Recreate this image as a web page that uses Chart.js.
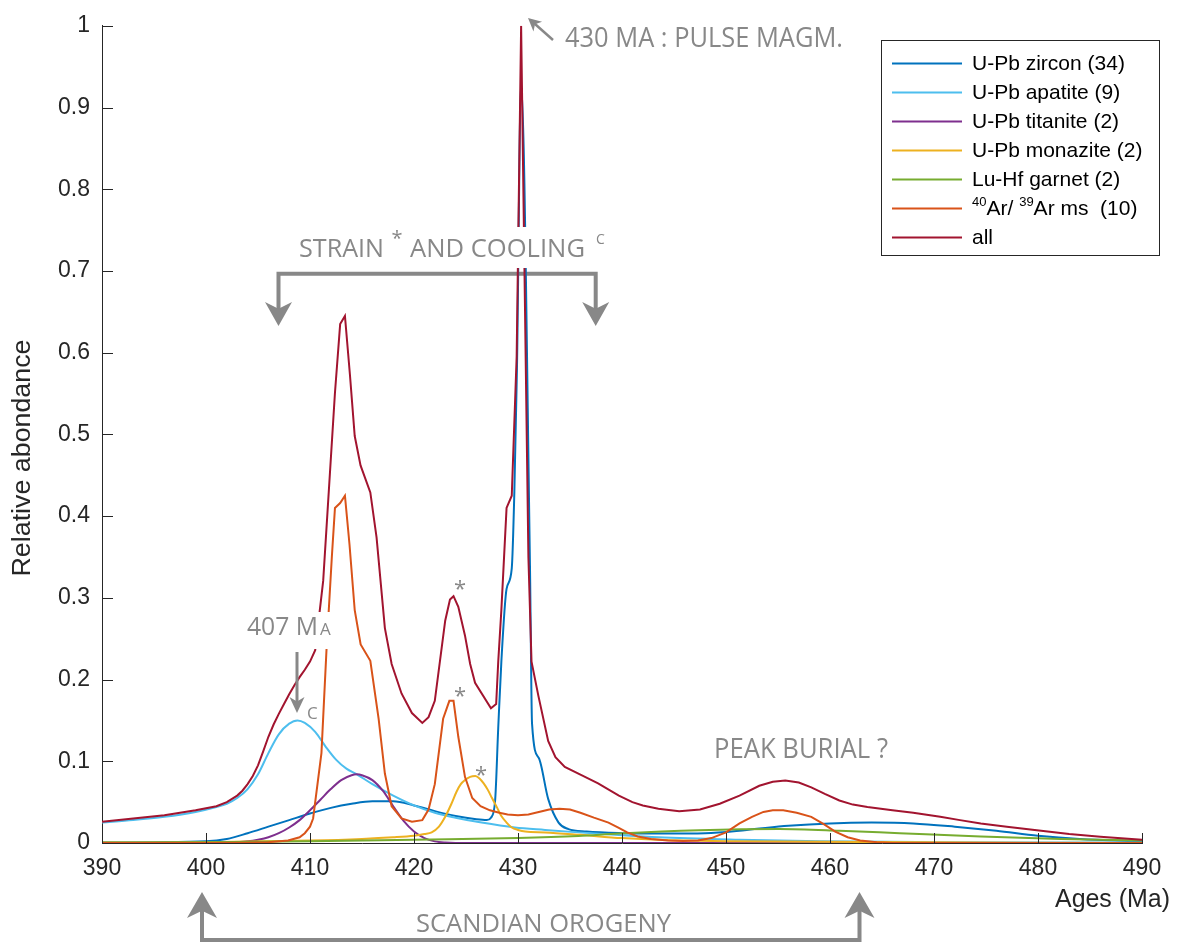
<!DOCTYPE html>
<html>
<head>
<meta charset="utf-8">
<script src="https://cdn.jsdelivr.net/npm/chart.js@4.4.0/dist/chart.umd.min.js"></script>
<style>
  html, body { margin: 0; padding: 0; background: #fff; }
  #wrap { width: 1186px; height: 945px; position: relative; }
</style>
</head>
<body>
<div id="wrap"><canvas id="chart" width="1186" height="945"></canvas></div>
<script>
// Ages (Ma) et abondances relatives, une paire de tableaux par série
const zirconAge = [390, 395, 400, 402, 404, 406, 408, 410, 412, 414, 416, 418, 420, 422, 424, 426, 427, 427.4, 427.8, 428.1, 428.4, 428.9, 429.4, 429.65, 429.9, 430.3, 431.15, 431.35, 432.0, 432.9, 433.9, 434.85, 436.6, 440, 444, 448, 452, 456, 460, 464, 468, 472, 476, 480, 484, 490];
const zirconVal = [0.0005, 0.001, 0.002, 0.005, 0.012, 0.02, 0.028, 0.036, 0.043, 0.048, 0.051, 0.051, 0.046, 0.039, 0.033, 0.029, 0.028, 0.031, 0.052, 0.141, 0.222, 0.311, 0.336, 0.43, 0.58, 0.93, 0.34, 0.146, 0.104, 0.054, 0.025, 0.017, 0.014, 0.012, 0.0115, 0.012, 0.016, 0.021, 0.024, 0.025, 0.024, 0.02, 0.015, 0.009, 0.005, 0.002];

const apatiteAge = [390, 393, 396, 399, 401, 402, 403, 404, 405, 406, 407, 408, 408.8, 409.5, 410.5, 411.5, 412.5, 413.5, 414.5, 416, 418, 420, 422, 424, 426.5, 429.7, 432.6, 435.8, 439.7, 443.5, 451.3, 459, 470, 490];
const apatiteVal = [0.025, 0.028, 0.032, 0.038, 0.044, 0.048, 0.055, 0.066, 0.084, 0.11, 0.133, 0.146, 0.15, 0.147, 0.136, 0.118, 0.102, 0.091, 0.084, 0.072, 0.058, 0.046, 0.037, 0.031, 0.025, 0.019, 0.016, 0.013, 0.0097, 0.007, 0.004, 0.002, 0.001, 0.0005];

const titaniteAge = [390, 400, 403, 404, 405, 406, 407, 408, 409, 410, 411, 412, 413, 414, 414.5, 415, 416, 417, 418, 419, 420, 421, 422, 423, 424, 490];
const titaniteVal = [0, 0.0003, 0.001, 0.002, 0.004, 0.007, 0.012, 0.019, 0.028, 0.04, 0.053, 0.066, 0.077, 0.083, 0.084, 0.083, 0.077, 0.064, 0.045, 0.027, 0.014, 0.006, 0.002, 0.0005, 0, 0];

const monaziteAge = [390, 400, 410, 415, 418, 420, 421, 421.7, 422.4, 423, 423.6, 424.1, 424.5, 424.9, 425.4, 425.9, 426.3, 426.7, 427.1, 427.5, 428, 428.4, 428.9, 429.4, 430, 430.7, 432.6, 436, 440, 450, 490];
const monaziteVal = [0.0005, 0.001, 0.003, 0.005, 0.007, 0.009, 0.011, 0.013, 0.02, 0.032, 0.048, 0.063, 0.072, 0.077, 0.081, 0.082, 0.079, 0.073, 0.065, 0.055, 0.043, 0.033, 0.025, 0.019, 0.016, 0.014, 0.013, 0.01, 0.006, 0.002, 0];

const garnetAge = [390, 400, 410, 420, 430, 435.8, 439.7, 447.4, 455.1, 460.9, 466.7, 474.5, 482.2, 490];
const garnetVal = [0.0005, 0.001, 0.002, 0.004, 0.006, 0.0085, 0.0115, 0.0155, 0.017, 0.015, 0.012, 0.008, 0.005, 0.003];

const arArAge = [390, 400, 404, 406, 407.9, 409, 409.5, 410, 410.3, 411.1, 411.6, 412.1, 412.4, 412.9, 413.36, 413.8, 414.3, 414.87, 415.8, 416.6, 417.2, 417.85, 418.8, 419.8, 420.8, 421.4, 422.0, 422.8, 423.4, 423.8, 424.26, 424.9, 425.6, 426.4, 427.3, 428.2, 429, 430, 431, 432, 433, 434, 435, 436, 437.3, 438.7, 439.6, 440.5, 441.5, 442.8, 444.4, 445.9, 447.3, 448.6, 450, 451.3, 452.5, 453.6, 454.5, 455.5, 456.8, 458.2, 459.4, 460.5, 461.7, 462.9, 464.5, 466, 490];
const arArVal = [0, 0, 0.0003, 0.001, 0.003, 0.007, 0.012, 0.02, 0.03, 0.11, 0.24, 0.35, 0.41, 0.416, 0.425, 0.365, 0.285, 0.243, 0.223, 0.152, 0.085, 0.045, 0.03, 0.026, 0.028, 0.041, 0.072, 0.152, 0.174, 0.174, 0.13, 0.081, 0.055, 0.045, 0.04, 0.037, 0.035, 0.034, 0.035, 0.038, 0.041, 0.042, 0.041, 0.037, 0.031, 0.025, 0.019, 0.013, 0.008, 0.005, 0.003, 0.0025, 0.003, 0.006, 0.013, 0.024, 0.032, 0.038, 0.04, 0.04, 0.037, 0.032, 0.023, 0.014, 0.007, 0.003, 0.001, 0, 0];

const allAge = [390, 393, 396, 399, 401, 402, 403, 403.5, 404, 404.5, 405, 405.5, 406, 406.5, 407, 407.5, 408, 408.5, 409, 409.5, 410, 410.5, 411.27, 412.4, 412.9, 413.36, 413.84, 414.3, 414.86, 415.8, 416.4, 417.2, 417.85, 418.8, 419.8, 420.8, 421.4, 422.0, 423.0, 423.46, 423.8, 424.26, 424.9, 425.4, 425.87, 427.4, 427.9, 428.1, 428.4, 428.9, 429.4, 429.87, 430.3, 431.0, 431.3, 431.96, 432.9, 433.6, 434.5, 436.1, 437.7, 439.7, 441, 442, 443.5, 445.5, 447.5, 449.4, 451.3, 453.2, 454.5, 455.7, 457, 458.2, 459.5, 460.9, 462.2, 463.6, 466, 468, 470.6, 472.5, 474.5, 477, 480.3, 483, 486, 490];
const allVal = [0.026, 0.03, 0.034, 0.04, 0.045, 0.05, 0.058, 0.064, 0.072, 0.082, 0.095, 0.112, 0.13, 0.145, 0.158, 0.17, 0.182, 0.193, 0.203, 0.212, 0.222, 0.236, 0.321, 0.551, 0.635, 0.645, 0.573, 0.498, 0.462, 0.429, 0.374, 0.263, 0.219, 0.183, 0.159, 0.147, 0.154, 0.174, 0.272, 0.298, 0.302, 0.289, 0.254, 0.219, 0.196, 0.165, 0.17, 0.222, 0.285, 0.41, 0.425, 0.595, 1.0, 0.35, 0.222, 0.18, 0.125, 0.105, 0.093, 0.083, 0.073, 0.058, 0.05, 0.046, 0.042, 0.039, 0.041, 0.048, 0.058, 0.07, 0.075, 0.0766, 0.074, 0.068, 0.06, 0.052, 0.047, 0.044, 0.04, 0.037, 0.032, 0.028, 0.024, 0.02, 0.015, 0.011, 0.0077, 0.004];

const seriesLabels = ['U-Pb zircon (34)', 'U-Pb apatite (9)', 'U-Pb titanite (2)', 'U-Pb monazite (2)', 'Lu-Hf garnet (2)', '⁴⁰Ar/ ³⁹Ar ms  (10)', 'all'];
const seriesColors = ['#0072BD', '#4DBEEE', '#7E2F8E', '#EDB120', '#77AC30', '#D95319', '#A2142F'];
const seriesAges = [zirconAge, apatiteAge, titaniteAge, monaziteAge, garnetAge, arArAge, allAge];
const seriesVals = [zirconVal, apatiteVal, titaniteVal, monaziteVal, garnetVal, arArVal, allVal];
const kinked = [false, false, false, false, false, true, true];

const xTicks = [390, 400, 410, 420, 430, 440, 450, 460, 470, 480, 490];
const yTicks = [0, 0.1, 0.2, 0.3, 0.4, 0.5, 0.6, 0.7, 0.8, 0.9, 1];

const GRIS = '#888888';
const AXE = '#262626';
const SANS = '"Liberation Sans", Arial, sans-serif';
const MYRIAD = '"Open Sans", "Noto Sans", sans-serif';

// Texte étiré/compressé à une largeur donnée
function texteAjuste(ctx, txt, x, y, w, font) {
  ctx.font = font;
  const m = ctx.measureText(txt).width;
  ctx.save();
  ctx.translate(x, y);
  ctx.scale(w / m, 1);
  ctx.fillText(txt, 0, 0);
  ctx.restore();
}

// Pointe de flèche à dos creux
function pointe(ctx, tx, ty, angle, len, half) {
  ctx.save();
  ctx.translate(tx, ty);
  ctx.rotate(angle);
  ctx.beginPath();
  ctx.moveTo(0, 0);
  ctx.lineTo(-len, -half);
  ctx.lineTo(-len * 0.72, 0);
  ctx.lineTo(-len, half);
  ctx.closePath();
  ctx.fill();
  ctx.restore();
}

const SUP = { '⁰': '0', '¹': '1', '²': '2', '³': '3', '⁴': '4', '⁵': '5', '⁶': '6', '⁷': '7', '⁸': '8', '⁹': '9' };
function texteExposant(ctx, txt, x, y, size) {
  let cx = x;
  for (const ch of txt) {
    if (SUP[ch]) {
      ctx.font = `${size * 0.62}px ${SANS}`;
      ctx.fillText(SUP[ch], cx, y - size * 0.36);
      cx += ctx.measureText(SUP[ch]).width;
    } else {
      ctx.font = `${size}px ${SANS}`;
      ctx.fillText(ch, cx, y);
      cx += ctx.measureText(ch).width;
    }
  }
}

const decor = {
  id: 'decor',
  beforeDatasetsDraw(chart) {
    const ctx = chart.ctx;
    // Accolade "strain and cooling" sous les courbes
    ctx.save();
    ctx.strokeStyle = GRIS;
    ctx.fillStyle = GRIS;
    ctx.lineWidth = 4;
    ctx.beginPath();
    ctx.moveTo(278.5, 312);
    ctx.lineTo(278.5, 273.7);
    ctx.lineTo(595.7, 273.7);
    ctx.lineTo(595.7, 312);
    ctx.stroke();
    pointe(ctx, 278.5, 326, Math.PI / 2, 24, 13.5);
    pointe(ctx, 595.7, 326, Math.PI / 2, 24, 13.5);
    ctx.restore();
  },
  afterDraw(chart) {
    const ctx = chart.ctx;
    const xs = chart.scales.x, ys = chart.scales.y;
    const area = chart.chartArea;
    ctx.save();

    // Graduations vers l'intérieur (style MATLAB)
    ctx.strokeStyle = AXE;
    ctx.lineWidth = 1;
    ctx.beginPath();
    xTicks.forEach(t => {
      const px = Math.round(xs.getPixelForValue(t)) + 0.5;
      ctx.moveTo(px, area.bottom);
      ctx.lineTo(px, area.bottom - 10);
    });
    yTicks.forEach(t => {
      const py = Math.round(ys.getPixelForValue(t)) + 0.5;
      ctx.moveTo(area.left, py);
      ctx.lineTo(area.left + 11, py);
    });
    ctx.stroke();

    // Titres d'axes
    ctx.fillStyle = AXE;
    ctx.textBaseline = 'middle';
    ctx.save();
    ctx.translate(23, 458);
    ctx.rotate(-Math.PI / 2);
    ctx.font = `25px ${SANS}`;
    const wl = ctx.measureText('Relative abondance').width;
    ctx.scale(237 / wl, 1);
    ctx.textAlign = 'center';
    ctx.fillText('Relative abondance', 0, 0);
    ctx.restore();
    ctx.textBaseline = 'alphabetic';
    texteAjuste(ctx, 'Ages (Ma)', 1055, 907, 115, `25px ${SANS}`);

    // Fonds blancs des étiquettes qui masquent les courbes
    ctx.fillStyle = '#fff';
    ctx.fillRect(293, 227, 318, 41);
    ctx.fillRect(243, 612, 91, 37);

    // Annotations
    ctx.fillStyle = GRIS;
    ctx.strokeStyle = GRIS;
    texteAjuste(ctx, '430 MA : PULSE MAGM.', 565, 47, 278, `28px ${MYRIAD}`);
    ctx.lineWidth = 2.5;
    ctx.beginPath();
    ctx.moveTo(553, 40);
    ctx.lineTo(535, 24);
    ctx.stroke();
    pointe(ctx, 528, 18, Math.atan2(-22, -25), 13, 6.5);

    texteAjuste(ctx, 'STRAIN', 299, 257, 85, `26px ${MYRIAD}`);
    texteAjuste(ctx, 'AND COOLING', 410, 257, 175, `26px ${MYRIAD}`);
    ctx.font = `20px ${MYRIAD}`;
    ctx.textAlign = 'center';
    ctx.fillText('*', 397, 245);
    ctx.textAlign = 'left';
    ctx.font = `14px ${MYRIAD}`;
    ctx.fillText('C', 596, 244);

    texteAjuste(ctx, '407 M', 247, 635, 71, `26px ${MYRIAD}`);
    ctx.font = `17px ${MYRIAD}`;
    ctx.fillText('A', 320, 635);
    ctx.fillText('C', 307, 719);
    ctx.lineWidth = 3;
    ctx.beginPath();
    ctx.moveTo(297, 652);
    ctx.lineTo(297, 702);
    ctx.stroke();
    pointe(ctx, 297, 713, Math.PI / 2, 16, 7.5);

    ctx.font = `22px ${MYRIAD}`;
    ctx.textAlign = 'center';
    [[460, 583], [460, 690], [481, 769]].forEach(([x, y]) => ctx.fillText('*', x, y + 13));
    ctx.textAlign = 'left';

    texteAjuste(ctx, 'PEAK BURIAL ?', 714, 758, 174, `27px ${MYRIAD}`);
    texteAjuste(ctx, 'SCANDIAN OROGENY', 416, 932, 255, `25px ${MYRIAD}`);

    // Accolade "Scandian orogeny"
    ctx.lineWidth = 4;
    ctx.beginPath();
    ctx.moveTo(202, 905);
    ctx.lineTo(202, 940);
    ctx.lineTo(859.5, 940);
    ctx.lineTo(859.5, 905);
    ctx.stroke();
    pointe(ctx, 202, 892, -Math.PI / 2, 26, 15);
    pointe(ctx, 859.5, 892, -Math.PI / 2, 26, 15);

    // Légende
    ctx.fillStyle = '#fff';
    ctx.fillRect(881.5, 40.5, 278, 215);
    ctx.strokeStyle = AXE;
    ctx.lineWidth = 1;
    ctx.strokeRect(881.5, 40.5, 278, 215);
    ctx.textBaseline = 'middle';
    seriesLabels.forEach((lab, i) => {
      const y = 63.5 + i * 29;
      ctx.strokeStyle = seriesColors[i];
      ctx.lineWidth = 2;
      ctx.beginPath();
      ctx.moveTo(892, y);
      ctx.lineTo(962, y);
      ctx.stroke();
      ctx.fillStyle = '#000';
      texteExposant(ctx, lab, 972, y + 1, 21);
    });
    ctx.restore();
  }
};

const datasets = seriesLabels.map((lab, i) => ({
  label: lab,
  data: seriesAges[i].map((a, j) => ({ x: a, y: seriesVals[i][j] })),
  borderColor: seriesColors[i],
  backgroundColor: seriesColors[i],
  borderWidth: 2,
  pointRadius: 0,
  fill: false,
  tension: 0,
  cubicInterpolationMode: kinked[i] ? 'default' : 'monotone',
  order: -i
}));

new Chart(document.getElementById('chart'), {
  type: 'line',
  data: { datasets },
  options: {
    responsive: false,
    animation: false,
    layout: { padding: { top: 20, right: 44, left: 0, bottom: 0 } },
    plugins: { legend: { display: false }, tooltip: { enabled: false } },
    scales: {
      x: {
        type: 'linear',
        min: 390,
        max: 490,
        afterFit(s) { s.height = 102; },
        afterBuildTicks(s) { s.ticks = xTicks.map(v => ({ value: v })); },
        ticks: { color: AXE, font: { family: SANS, size: 23 }, padding: 12, maxRotation: 0, autoSkip: false },
        grid: { display: false, drawTicks: false },
        border: { display: true, color: AXE, width: 1 }
      },
      y: {
        min: 0,
        max: 1,
        afterFit(s) { s.width = 102; },
        afterBuildTicks(s) { s.ticks = yTicks.map(v => ({ value: v })); },
        ticks: {
          color: AXE,
          font: { family: SANS, size: 23 },
          padding: 12,
          callback: v => String(Math.round(v * 10) / 10)
        },
        grid: { display: false, drawTicks: false },
        border: { display: true, color: AXE, width: 1 }
      }
    }
  },
  plugins: [decor]
});
</script>
</body>
</html>
